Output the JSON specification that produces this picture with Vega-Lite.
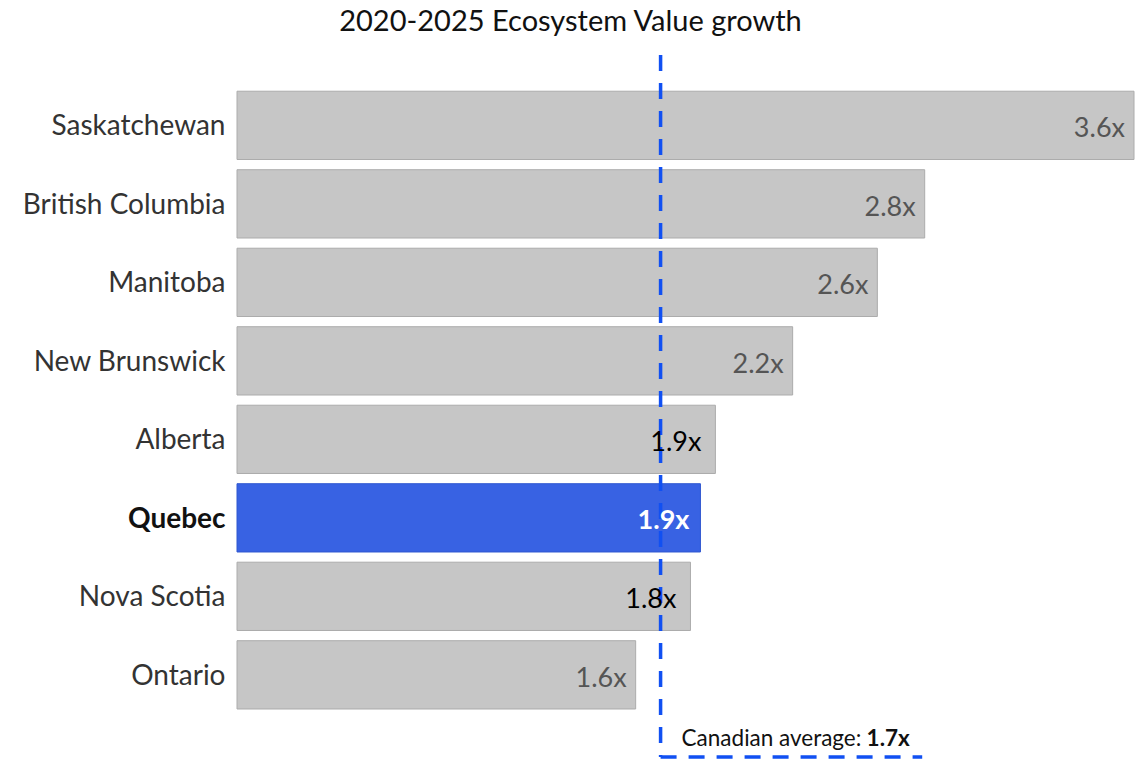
{
  "$schema": "https://vega.github.io/schema/vega-lite/v6.json",
  "width": 897,
  "height": 702,
  "autosize": {"type": "none"},
  "padding": {"left": 237, "top": 55, "right": 8, "bottom": 4},
  "background": "white",
  "config": {"view": {"stroke": null}, "font": "Lato"},
  "title": {
    "text": "2020-2025 Ecosystem Value growth",
    "fontSize": 29,
    "fontWeight": "normal",
    "font": "Lato",
    "color": "#111111",
    "anchor": "middle",
    "dx": -115,
    "offset": 16
  },
  "data": {
    "values": [
      {"province": "Saskatchewan", "growth": 3.6, "label": "3.6x"},
      {"province": "British Columbia", "growth": 2.76, "label": "2.8x"},
      {"province": "Manitoba", "growth": 2.57, "label": "2.6x"},
      {"province": "New Brunswick", "growth": 2.23, "label": "2.2x"},
      {"province": "Alberta", "growth": 1.92, "label": "1.9x"},
      {"province": "Quebec", "growth": 1.86, "label": "1.9x"},
      {"province": "Nova Scotia", "growth": 1.82, "label": "1.8x"},
      {"province": "Ontario", "growth": 1.6, "label": "1.6x"}
    ]
  },
  "encoding": {
    "y": {
      "field": "province",
      "type": "nominal",
      "sort": null,
      "scale": {"paddingInner": 0.13, "paddingOuter": 0.5365, "align": 0.43},
      "axis": {
        "title": null,
        "domain": false,
        "ticks": false,
        "labelPadding": 12,
        "labelLimit": 400,
        "labelOffset": 2,
        "labelFontSize": 28,
        "labelFont": "Lato",
        "labelColor": {"expr": "datum.value === 'Quebec' ? '#111111' : '#333333'"},
        "labelFontWeight": {"expr": "datum.value === 'Quebec' ? 'bold' : 'normal'"}
      }
    }
  },
  "layer": [
    {
      "mark": {"type": "bar", "strokeWidth": 1},
      "encoding": {
        "x": {"field": "growth", "type": "quantitative", "scale": {"domain": [0, 3.6], "nice": false}, "axis": null},
        "color": {
          "condition": {"test": "datum.province === 'Quebec'", "value": "#3862e3"},
          "value": "#c6c6c6"
        },
        "stroke": {
          "condition": {"test": "datum.province === 'Quebec'", "value": "#2f57d0"},
          "value": "#acacac"
        }
      }
    },
    {
      "data": {"values": [{"avg": 1.7, "end": 2.75}]},
      "mark": {"type": "rule", "color": "#1150f2", "strokeWidth": 3.5, "strokeDash": [16, 12]},
      "encoding": {
        "x": {"field": "avg", "type": "quantitative"},
        "y": null
      }
    },
    {
      "data": {"values": [{"avg": 1.7, "end": 2.75}]},
      "mark": {"type": "rule", "color": "#1150f2", "strokeWidth": 3.5, "strokeDash": [16, 12], "y": {"expr": "height"}},
      "encoding": {
        "x": {"field": "avg", "type": "quantitative"},
        "x2": {"field": "end"},
        "y": null
      }
    },
    {
      "data": {"values": [{"avg": 1.7, "text": "Canadian average: "}]},
      "mark": {"type": "text", "align": "left", "baseline": "alphabetic", "dx": 21, "dy": -11, "fontSize": 22.5, "color": "#111111", "y": {"expr": "height"}},
      "encoding": {
        "x": {"field": "avg", "type": "quantitative"},
        "text": {"field": "text"},
        "y": null
      }
    },
    {
      "data": {"values": [{"avg": 1.7, "text": "1.7x"}]},
      "mark": {"type": "text", "align": "left", "baseline": "alphabetic", "dx": 206, "dy": -11, "fontSize": 22.5, "fontWeight": "bold", "color": "#111111", "y": {"expr": "height"}},
      "encoding": {
        "x": {"field": "avg", "type": "quantitative"},
        "text": {"field": "text"},
        "y": null
      }
    },
    {
      "transform": [{"filter": "datum.province !== 'Quebec' && !(datum.growth > 1.7 && datum.growth < 2.0)"}],
      "mark": {"type": "text", "align": "right", "baseline": "middle", "dx": -9, "dy": 4, "fontSize": 27, "color": "#555555"},
      "encoding": {
        "x": {"field": "growth", "type": "quantitative"},
        "text": {"field": "label"}
      }
    },
    {
      "transform": [{"filter": "datum.province !== 'Quebec' && datum.growth > 1.7 && datum.growth < 2.0"}],
      "mark": {"type": "text", "align": "right", "baseline": "middle", "dx": -14, "dy": 4, "fontSize": 27, "color": "#000000"},
      "encoding": {
        "x": {"field": "growth", "type": "quantitative"},
        "text": {"field": "label"}
      }
    },
    {
      "transform": [{"filter": "datum.province === 'Quebec'"}],
      "mark": {"type": "text", "align": "right", "baseline": "middle", "dx": -11, "dy": 3, "fontSize": 27, "fontWeight": "bold", "color": "#ffffff"},
      "encoding": {
        "x": {"field": "growth", "type": "quantitative"},
        "text": {"field": "label"}
      }
    }
  ]
}
